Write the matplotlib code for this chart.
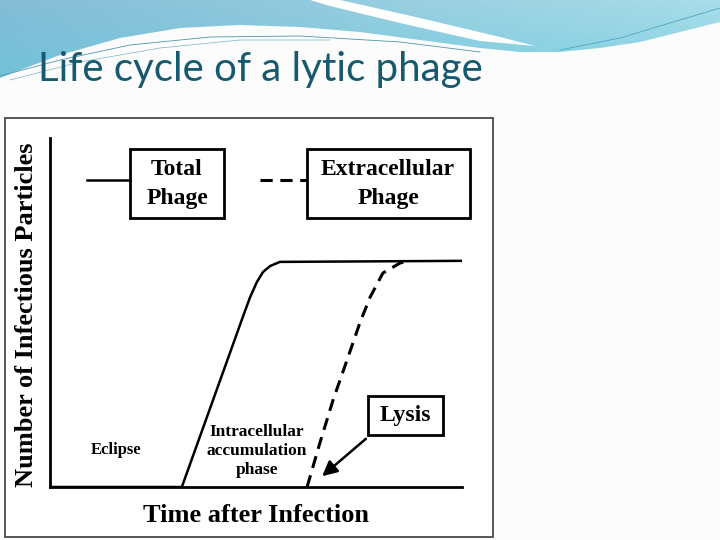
import numpy as np
import matplotlib.pyplot as plt
from matplotlib.patches import Rectangle, Polygon
from matplotlib.colors import to_rgb

# curves (time, particles), both in 0..10 units
total_t = [0.0, 3.20, 4.68, 4.85, 5.02, 5.17, 5.34, 5.58, 10.0]
total_n = [0.0, 0.0, 4.87, 5.42, 5.87, 6.16, 6.33, 6.45, 6.48]
extra_t = [6.24, 6.55, 6.87, 7.21, 7.52, 7.77, 8.08, 8.50, 8.74]
extra_n = [0.0, 1.26, 2.49, 3.64, 4.70, 5.44, 6.13, 6.42, 6.48]

title = "Life cycle of a lytic phage"
serif = "Liberation Serif"

fig = plt.figure(figsize=(7.2, 5.4), dpi=100)
fig.patch.set_facecolor("#fcfcfc")

# background layer in pixel coords
bg = fig.add_axes([0, 0, 1, 1])
bg.set_xlim(0, 720)
bg.set_ylim(540, 0)
bg.axis("off")

# blue wave at the top
h, w = 100, 200
c_left, c_right, c_low = map(np.array, map(to_rgb, ["#84bcd6", "#a9dde9", "#5cc9de"]))
gx = np.linspace(0, 1, w)[None, :, None]
gy = np.linspace(0, 1, h)[:, None, None]
grad = c_left * (1 - gx) + c_right * gx
grad = grad * (1 - 0.6 * gy) + c_low * 0.6 * gy
im = bg.imshow(grad, extent=(0, 720, 100, 0), aspect="auto", zorder=1)
wave = Polygon([(0, 0), (720, 0), (720, 22), (680, 32), (640, 42), (600, 48),
                (560, 52), (520, 52), (480, 48), (420, 40), (360, 32), (300, 27),
                (240, 25), (180, 28), (120, 38), (60, 55), (20, 70), (0, 78)],
               closed=True, facecolor="none", edgecolor="none")
bg.add_patch(wave)
im.set_clip_path(wave)
bg.add_patch(Polygon([(310, 0), (340, 0), (420, 18), (500, 37), (535, 46),
                      (480, 41), (400, 23), (330, 6)],
                     closed=True, facecolor="white", edgecolor="none", zorder=2))
bg.plot([0, 60, 130, 210, 300, 400, 480], [76, 60, 45, 37, 36, 42, 52],
        color="#4f97ad", lw=0.6, zorder=3)
bg.plot([10, 80, 160, 240, 330], [80, 62, 48, 40, 40], color="#7ab4c6", lw=0.5, zorder=3)
bg.plot([560, 620, 680, 720], [50, 38, 20, 8], color="#4fa6c0", lw=0.6, zorder=3)

bg.text(38, 81, title, fontsize=29, family="Lato", color="#175a70",
        va="baseline", ha="left", zorder=4)

# image frame
bg.add_patch(Rectangle((5, 118), 488, 419, facecolor="white",
                       edgecolor="#555555", lw=1.4, zorder=1))

# legend boxes, labels
bg.plot([87, 130], [180, 180], color="black", lw=1.8)
bg.plot([260, 307], [180, 180], color="black", lw=2.2, ls=(0, (4, 2.5)))
bg.add_patch(Rectangle((130, 149), 94, 69, fill=False, edgecolor="black", lw=2))
bg.add_patch(Rectangle((307, 149), 163, 69, fill=False, edgecolor="black", lw=2))
bg.text(177, 184, "Total\nPhage", ha="center", va="center", fontsize=17,
        family=serif, weight="bold", linespacing=1.45)
bg.text(388, 184, "Extracellular\nPhage", ha="center", va="center", fontsize=17,
        family=serif, weight="bold", linespacing=1.45)
bg.add_patch(Rectangle((368, 396), 75, 39, fill=False, edgecolor="black", lw=2))
bg.text(405, 416, "Lysis", ha="center", va="center", fontsize=17,
        family=serif, weight="bold")
bg.annotate("", xy=(320, 478), xytext=(368, 437),
            arrowprops=dict(arrowstyle="-|>,head_length=0.9,head_width=0.45",
                            color="black", lw=1.8))
bg.text(116, 450, "Eclipse", ha="center", va="center", fontsize=12,
        family=serif, weight="bold")
bg.text(257, 451, "Intracellular\naccumulation\nphase", ha="center", va="center",
        fontsize=12.5, family=serif, weight="bold", linespacing=1.25)
bg.text(256, 515, "Time after Infection", ha="center", va="center", fontsize=19,
        family=serif, weight="bold")
bg.text(27, 315, "Number of Infectious Particles", ha="center", va="center",
        fontsize=19, family=serif, weight="bold", rotation=90)

# chart axes
ax = fig.add_axes([50 / 720, (540 - 487) / 540, 412 / 720, 349 / 540])
ax.set_facecolor("none")
ax.plot(total_t, total_n, color="black", lw=1.8)
ax.plot(extra_t, extra_n, color="black", lw=2.2, ls=(0, (4, 2.5)))
ax.set_xlim(0, 10)
ax.set_ylim(0, 10)
for s in ["top", "right"]:
    ax.spines[s].set_visible(False)
for s in ["left", "bottom"]:
    ax.spines[s].set_linewidth(2)
ax.set_xticks([])
ax.set_yticks([])

fig.savefig("out.png", dpi=100, facecolor=fig.get_facecolor())
